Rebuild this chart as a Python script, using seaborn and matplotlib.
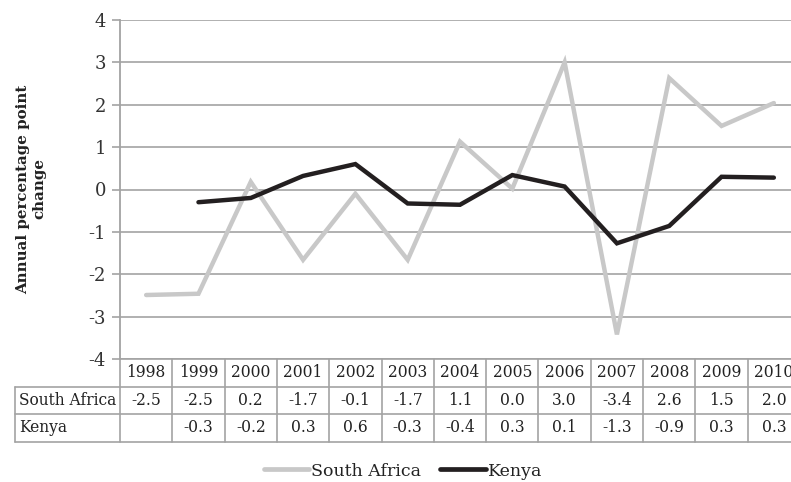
import numpy as np
import pandas as pd
import matplotlib
matplotlib.use("Agg")
import matplotlib.pyplot as plt
import matplotlib.transforms as mtransforms
from matplotlib.lines import Line2D
import seaborn as sns

years = ["1998", "1999", "2000", "2001", "2002", "2003", "2004",
         "2005", "2006", "2007", "2008", "2009", "2010"]
south_africa = [-2.49, -2.46, 0.18, -1.66, -0.10, -1.66, 1.13,
                0.02, 3.00, -3.42, 2.63, 1.50, 2.04]
kenya = [np.nan, -0.30, -0.20, 0.32, 0.60, -0.33, -0.36,
         0.34, 0.07, -1.27, -0.86, 0.30, 0.28]
series_names = ["South Africa", "Kenya"]
series_colors = ["#c8c8c8", "#231f20"]
y_ticks = [-4, -3, -2, -1, 0, 1, 2, 3, 4]

sns.set_theme(style="white")
plt.rcParams["font.family"] = ["DejaVu Serif"]

W, H = 791, 482
fig = plt.figure(figsize=(W / 100, H / 100), dpi=100)
ax_left, ax_right, ax_top, ax_bot = 120, 800, 20, 359
ax = fig.add_axes([ax_left / W, 1 - ax_bot / H, (ax_right - ax_left) / W, (ax_bot - ax_top) / H])

df = pd.DataFrame({
    "pos": list(range(len(years))) * 2,
    "value": south_africa + kenya,
    "series": [series_names[0]] * len(years) + [series_names[1]] * len(years),
})
sns.lineplot(data=df, x="pos", y="value", hue="series", palette=dict(zip(series_names, series_colors)),
             linewidth=3.2, ax=ax, legend=False, sort=False)
for l in ax.lines:
    l.set_solid_capstyle("round")
    l.set_solid_joinstyle("miter")

grid_c = "#a3a3a3"
ax.set_xlim(-0.5, len(years) - 0.5)
ax.set_ylim(-4, 4)
ax.set_yticks(y_ticks)
ax.set_yticklabels([str(t) for t in y_ticks], fontsize=13, color="#333333")
ax.set_xticks([])
ax.set_xlabel("")
ax.set_ylabel("")
ax.grid(axis="y", color=grid_c, linewidth=1.2)
ax.set_axisbelow(True)
for s in ["top", "right", "bottom"]:
    ax.spines[s].set_visible(False)
ax.spines["left"].set_color(grid_c)
ax.spines["left"].set_linewidth(1.3)
ax.tick_params(axis="y", length=6, width=1.2, color=grid_c, pad=4, left=True)

fig.text(31 / W, 1 - 189 / H, "Annual percentage point\nchange", rotation=90,
         ha="center", va="center", fontsize=10.8, fontweight="bold", color="#222222",
         linespacing=1.2)

# data table below the plot
trans = mtransforms.blended_transform_factory(ax.transData, ax.transAxes)
axh_px = ax_bot - ax_top
row_h = 27.5 / axh_px
col_px = (ax_right - ax_left) / len(years)
label_left = -0.5 - 105 / col_px
n = len(years)
lw = 1.2
kw = dict(transform=trans, color=grid_c, linewidth=lw, clip_on=False)
# horizontal lines
ax.add_line(Line2D([-0.5, n - 0.5], [0, 0], **kw))
for r in (1, 2, 3):
    ax.add_line(Line2D([label_left, n - 0.5], [-r * row_h, -r * row_h], **kw))
# vertical lines
for i in range(n + 1):
    ax.add_line(Line2D([i - 0.5, i - 0.5], [0, -3 * row_h], **kw))
ax.add_line(Line2D([label_left, label_left], [-row_h, -3 * row_h], **kw))

tfs = 11.2
tc = "#222222"
for i, yr in enumerate(years):
    ax.text(i, -0.5 * row_h, yr, transform=trans, ha="center", va="center", fontsize=tfs, color=tc, clip_on=False)
rows = [south_africa, kenya]
for r, (name, vals) in enumerate(zip(series_names, rows)):
    yc = -(r + 1.5) * row_h
    ax.text(label_left + 4 / col_px, yc, name, transform=trans, ha="left", va="center",
            fontsize=tfs, color=tc, clip_on=False)
    for i, v in enumerate(vals):
        if np.isnan(v):
            continue
        ax.text(i, yc, f"{v:.1f}", transform=trans, ha="center", va="center",
                fontsize=tfs, color=tc, clip_on=False)

handles = [Line2D([], [], color=c, linewidth=3.4, solid_capstyle="round") for c in series_colors]
fig.legend(handles, series_names, loc="center", bbox_to_anchor=(403 / W, 1 - 471 / H), ncol=2,
           frameon=False, fontsize=12.5, handlelength=2.6, handletextpad=0.12, columnspacing=1.1,
           labelcolor="#222222")

fig.savefig("out.png", dpi=100)
